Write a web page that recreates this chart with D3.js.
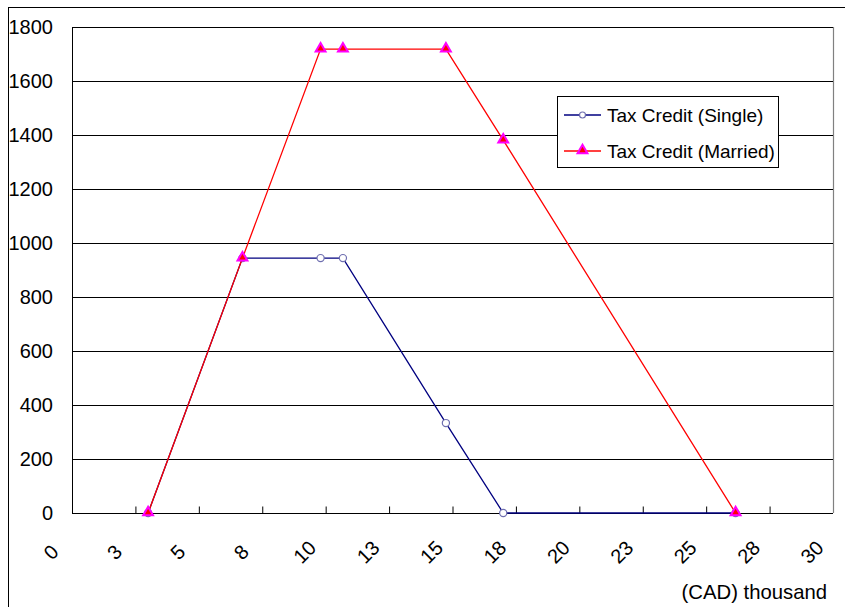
<!DOCTYPE html>
<html>
<head>
<meta charset="utf-8">
<script src="https://cdn.jsdelivr.net/npm/d3@7"></script>
<style>
  html, body { margin: 0; padding: 0; background: #fff; }
  svg { display: block; font-family: "Liberation Sans", Arial, sans-serif; }
</style>
</head>
<body>
<svg id="chart" width="845" height="607"></svg>
<script>
// Income (thousand CAD) at each kink of the credit schedule
const incomes = [3.0, 6.72, 9.8, 10.68, 14.74, 17.0, 26.16];
// Credit amounts for each household type
const singleCredit  = [0, 944, 944, 944, 333, 0, 0];
const marriedCredit = [0, 944, 1718, 1718, 1718, 1381, 0];
// Axis ticks
const xTickValues = [0, 2.5, 5, 7.5, 10, 12.5, 15, 17.5, 20, 22.5, 25, 27.5, 30];
const xTickLabels = ["0", "3", "5", "8", "10", "13", "15", "18", "20", "23", "25", "28", "30"];
const yTickValues = [0, 200, 400, 600, 800, 1000, 1200, 1400, 1600, 1800];
const seriesNames = ["Tax Credit (Single)", "Tax Credit (Married)"];

const svg = d3.select("#chart");
const plotLeft = 72, plotRight = 833, plotTop = 27, plotBottom = 513;

const x = d3.scaleLinear().domain([0, 30]).range([plotLeft, plotRight]);
const y = d3.scaleLinear().domain([0, 1800]).range([plotBottom, plotTop]);

// outer chart frame
svg.append("rect")
  .attr("x", 8.5).attr("y", 7.5)
  .attr("width", 900).attr("height", 700)
  .attr("fill", "none").attr("stroke", "#000").attr("stroke-width", 1);

// plot area right border
svg.append("line")
  .attr("x1", plotRight + 0.5).attr("x2", plotRight + 0.5)
  .attr("y1", plotTop).attr("y2", plotBottom)
  .attr("stroke", "#808080").attr("stroke-width", 1.2);

// horizontal gridlines
svg.append("g").selectAll("line")
  .data(yTickValues)
  .join("line")
  .attr("x1", plotLeft).attr("x2", plotRight)
  .attr("y1", d => Math.round(y(d)) + 0.5)
  .attr("y2", d => Math.round(y(d)) + 0.5)
  .attr("stroke", "#000").attr("stroke-width", 1);

// y axis line
svg.append("line")
  .attr("x1", plotLeft + 0.5).attr("x2", plotLeft + 0.5)
  .attr("y1", plotTop).attr("y2", plotBottom + 0.5)
  .attr("stroke", "#000").attr("stroke-width", 1);

// y tick labels
svg.append("g").selectAll("text")
  .data(yTickValues)
  .join("text")
  .attr("x", 53)
  .attr("y", d => y(d))
  .attr("dy", "0.35em")
  .attr("text-anchor", "end")
  .attr("font-size", 20)
  .attr("fill", "#000")
  .text(d => d);

// x axis: inside tick marks
const xAxis = d3.axisBottom(x)
  .tickValues(xTickValues.slice(1, -1))
  .tickSize(-7)
  .tickFormat("");
const gx = svg.append("g")
  .attr("transform", `translate(0,${Math.round(y(0)) + 0.5})`)
  .call(xAxis);
gx.select(".domain").remove();
gx.selectAll(".tick line").attr("stroke", "#000").attr("stroke-width", 1);

// rotated x tick labels
svg.append("g").selectAll("text")
  .data(xTickValues)
  .join("text")
  .attr("transform", d => `translate(${x(d) - 21},552) rotate(-45)`)
  .attr("text-anchor", "middle")
  .attr("dy", "0.35em")
  .attr("font-size", 20)
  .attr("fill", "#000")
  .text((d, i) => xTickLabels[i]);

// axis title
svg.append("text")
  .attr("x", 827).attr("y", 599)
  .attr("text-anchor", "end")
  .attr("font-size", 20.3)
  .attr("fill", "#000")
  .text("(CAD) thousand");

const line = d3.line().x(d => x(d[0])).y(d => y(d[1]));
const singlePts = incomes.map((v, i) => [v, singleCredit[i]]);
const marriedPts = incomes.map((v, i) => [v, marriedCredit[i]]);

const triangle = d3.symbol().type(d3.symbolTriangle).size(42);

// Single series
svg.append("path")
  .attr("d", line(singlePts))
  .attr("fill", "none").attr("stroke", "#000080").attr("stroke-width", 1.3);
svg.append("g").selectAll("circle")
  .data(singlePts)
  .join("circle")
  .attr("cx", d => x(d[0])).attr("cy", d => y(d[1]))
  .attr("r", 3.6)
  .attr("fill", "#fff").attr("stroke", "#6f6fb0").attr("stroke-width", 1.2);

// Married series
svg.append("path")
  .attr("d", line(marriedPts))
  .attr("fill", "none").attr("stroke", "#ff0000").attr("stroke-width", 1.3);
svg.append("g").selectAll("path")
  .data(marriedPts)
  .join("path")
  .attr("transform", d => `translate(${x(d[0])},${y(d[1]) - 0.5})`)
  .attr("d", triangle)
  .attr("fill", "#ff0000").attr("stroke", "#ff00ff").attr("stroke-width", 2);

// legend
const legend = svg.append("g");
legend.append("rect")
  .attr("x", 557.5).attr("y", 96.5)
  .attr("width", 221).attr("height", 71)
  .attr("fill", "#fff").attr("stroke", "#000").attr("stroke-width", 1);
const rowY = [115, 151];
// single entry
legend.append("line")
  .attr("x1", 564).attr("x2", 601).attr("y1", rowY[0]).attr("y2", rowY[0])
  .attr("stroke", "#000080").attr("stroke-width", 1.3);
legend.append("circle")
  .attr("cx", 582.5).attr("cy", rowY[0]).attr("r", 3)
  .attr("fill", "#fff").attr("stroke", "#6f6fb0").attr("stroke-width", 1.2);
// married entry
legend.append("line")
  .attr("x1", 564).attr("x2", 601).attr("y1", rowY[1]).attr("y2", rowY[1])
  .attr("stroke", "#ff0000").attr("stroke-width", 1.3);
legend.append("path")
  .attr("transform", `translate(582.5,${rowY[1] - 0.5})`)
  .attr("d", triangle)
  .attr("fill", "#ff0000").attr("stroke", "#ff00ff").attr("stroke-width", 2);
legend.selectAll("text.lbl")
  .data(seriesNames)
  .join("text")
  .attr("class", "lbl")
  .attr("x", 607)
  .attr("y", (d, i) => rowY[i])
  .attr("dy", "0.35em")
  .attr("font-size", 19)
  .attr("fill", "#000")
  .text(d => d);
</script>
</body>
</html>
